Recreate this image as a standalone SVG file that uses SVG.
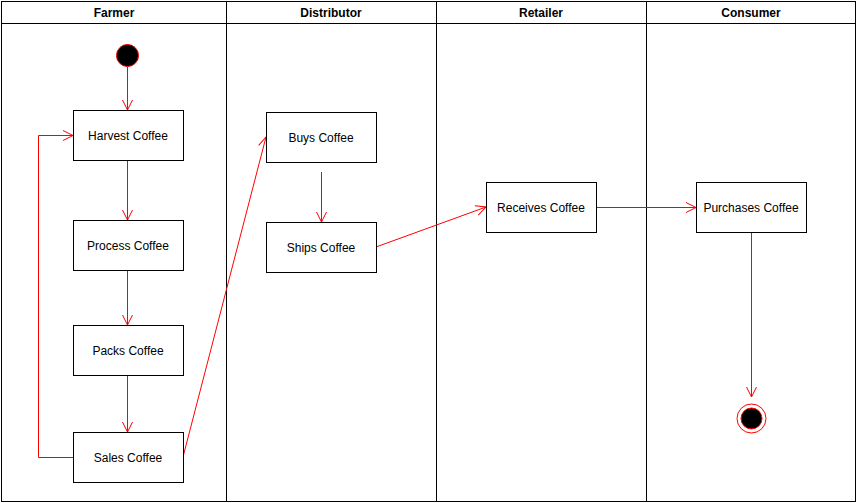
<svg xmlns="http://www.w3.org/2000/svg" width="857" height="503" viewBox="0 0 857 503">
<defs>
<style>
.lane{fill:none;stroke:#000;stroke-width:1}
.hd{font-family:"Liberation Sans",Arial,sans-serif;font-size:12px;font-weight:bold;fill:#000;text-anchor:middle}
.box{fill:#fff;stroke:#000;stroke-width:1}
.lbl{font-family:"Liberation Sans",Arial,sans-serif;font-size:12px;fill:#000;text-anchor:middle}
.c{fill:none;stroke:#ff0000;stroke-width:1}
</style>
<marker id="arr" viewBox="0 0 12 12" refX="11" refY="6" markerWidth="12" markerHeight="12" markerUnits="userSpaceOnUse" orient="auto">
<path d="M1,1 L11,6 L1,11" fill="none" stroke="#ff0000" stroke-width="1"/>
</marker>
</defs>
<rect width="857" height="503" fill="#fff"/>
<g id="lanes">
<rect class="lane" x="1.5" y="1.5" width="854" height="500"/>
<line class="lane" x1="1.5" y1="23.5" x2="855.5" y2="23.5"/>
<line class="lane" x1="226.5" y1="1.5" x2="226.5" y2="501.5"/>
<line class="lane" x1="436.5" y1="1.5" x2="436.5" y2="501.5"/>
<line class="lane" x1="646.5" y1="1.5" x2="646.5" y2="501.5"/>
<text class="hd" x="114" y="17">Farmer</text>
<text class="hd" x="331" y="17">Distributor</text>
<text class="hd" x="541" y="17">Retailer</text>
<text class="hd" x="751" y="17">Consumer</text>
</g>
<g id="connectors">
<line class="c" x1="127.5" y1="67" x2="127.5" y2="110" marker-end="url(#arr)"/>
<line class="c" x1="127.5" y1="160" x2="127.5" y2="220" marker-end="url(#arr)"/>
<line class="c" x1="127.5" y1="270" x2="127.5" y2="325" marker-end="url(#arr)"/>
<line class="c" x1="127.5" y1="375" x2="127.5" y2="432" marker-end="url(#arr)"/>
<polyline class="c" points="73,457.5 38.5,457.5 38.5,135.5 73,135.5" marker-end="url(#arr)"/>
<line class="c" x1="183" y1="457" x2="266" y2="137" marker-end="url(#arr)"/>
<line class="c" x1="321.5" y1="172" x2="321.5" y2="222" marker-end="url(#arr)"/>
<line class="c" x1="376" y1="247" x2="486" y2="207" marker-end="url(#arr)"/>
<line class="c" x1="596" y1="207.5" x2="696" y2="207.5" marker-end="url(#arr)"/>
<line class="c" x1="751.5" y1="232" x2="751.5" y2="397" marker-end="url(#arr)"/>
</g>
<g id="start"><circle cx="127.5" cy="55.5" r="11" fill="#000" stroke="#ff0000" stroke-width="1"/></g>
<g id="harvest"><rect class="box" x="73.5" y="110.5" width="110" height="50"/><text class="lbl" x="128" y="140">Harvest Coffee</text></g>
<g id="process"><rect class="box" x="73.5" y="220.5" width="110" height="50"/><text class="lbl" x="128" y="250">Process Coffee</text></g>
<g id="packs"><rect class="box" x="73.5" y="325.5" width="110" height="50"/><text class="lbl" x="128" y="355">Packs Coffee</text></g>
<g id="sales"><rect class="box" x="73.5" y="432.5" width="110" height="50"/><text class="lbl" x="128" y="462">Sales Coffee</text></g>
<g id="buys"><rect class="box" x="266.5" y="112.5" width="110" height="50"/><text class="lbl" x="321" y="142">Buys Coffee</text></g>
<g id="ships"><rect class="box" x="266.5" y="222.5" width="110" height="50"/><text class="lbl" x="321" y="252">Ships Coffee</text></g>
<g id="receives"><rect class="box" x="486.5" y="182.5" width="110" height="50"/><text class="lbl" x="541" y="212">Receives Coffee</text></g>
<g id="purchases"><rect class="box" x="696.5" y="182.5" width="110" height="50"/><text class="lbl" x="751" y="212">Purchases Coffee</text></g>
<g id="end"><circle cx="751.5" cy="418.5" r="14.5" fill="#fff" stroke="#ff0000" stroke-width="1"/><circle cx="751.5" cy="418.5" r="10.5" fill="#000" stroke="#ff0000" stroke-width="1"/></g>
</svg>
